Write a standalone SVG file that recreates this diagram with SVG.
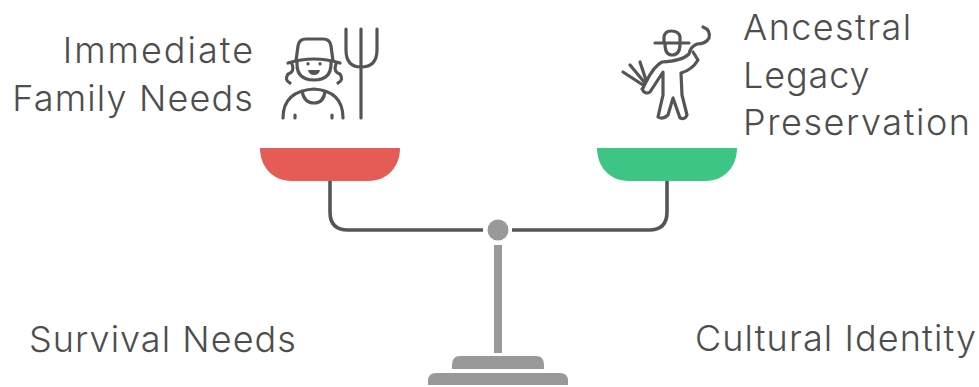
<svg xmlns="http://www.w3.org/2000/svg" width="979" height="387" viewBox="0 0 979 387">
<style>
text{font-family:Inter,"Liberation Sans",sans-serif;font-size:36px;font-weight:300;fill:#4d4d4d}
.i{fill:none;stroke:#555;stroke-width:3.2;stroke-linecap:round;stroke-linejoin:round}
.g{fill:#999}
.b{fill:none;stroke:#555;stroke-width:3.6}
</style>
<rect width="979" height="387" fill="#fff"/>
<g id="connectors">
<path class="b" d="M330 180V212Q330 230 348 230H483"/>
<path class="b" d="M667 180V212Q667 230 649 230H512"/>
</g>
<g id="pan-left"><path d="M260 148H400C400 166 388 181 368 181H292C272 181 260 166 260 148Z" fill="#e55b56"/></g>
<g id="pan-right"><path d="M597 148H737C737 166 725 181 705 181H629C609 181 597 166 597 148Z" fill="#3dc585"/></g>
<g id="stand">
<circle class="g" cx="498" cy="230" r="10.500"/>
<rect class="g" x="494" y="245" width="8" height="108"/>
<path class="g" d="M452 369V365Q452 356 460 356H536Q544 356 544 365V369Z"/>
<path class="g" d="M428 385V381Q428 373 436 373H560Q568 373 568 381V385Z"/>
</g>
<g id="icon-farmer">
<path class="i" d="M296 61L298 46Q299 39 306 39H323Q330 39 331 46L333 61"/>
<path class="i" d="M288 63Q314 55 340 63"/>
<path class="i" d="M297 61V64Q297 80 314 80Q331 80 331 64V61"/>
<path class="i" d="M292 64Q295 72 288 74Q284 80 290 83M336 64Q333 72 340 74Q344 80 338 83"/>
<path class="i" d="M308 63.500V64M320 63.500V64"/>
<path d="M308 70H320Q319 75 314 75Q309 75 308 70Z" fill="#555"/>
<path class="i" d="M283 118Q283 91 314 89Q343 91 343 118M302 91Q304 103 314 103Q324 103 325 91M295 115V118M332 115V118"/>
<path class="i" d="M346 29V50Q346 67 361 67Q377 67 377 50V29M361 29V118"/>
</g>
<g id="icon-gaucho">
<path class="i" d="M655 43H689M664 43V37Q665 31 671 31Q679 31 680 37V43M665 44Q665 55 672 55Q680 55 680 44"/>
<path class="i" d="M703 27Q711 30 709 38Q706 44 697 44Q690 47 689 54Q682 61 662 62Q654 66 646 82L643 88"/>
<path class="i" d="M693 52L698 60Q692 70 681 73L682 95L687 115Q685 120 680 118L673 98L668 115Q663 120 658 117L663 95V72L650 92Q645 95 642 89"/>
<path class="i" d="M623 72L643 85M630 65L645 83M640 62L646 80"/>
</g>
<g id="label-family"><text x="255" y="63" text-anchor="end" letter-spacing="2">Immediate</text><text x="254" y="111" text-anchor="end" letter-spacing="1.150">Family Needs</text></g>
<g id="label-legacy"><text x="743" y="40" letter-spacing="1.400">Ancestral</text><text x="743" y="88" letter-spacing="0.900">Legacy</text><text x="743" y="135" letter-spacing="1.550">Preservation</text></g>
<g id="label-survival"><text x="29" y="352" letter-spacing="1.050">Survival Needs</text></g>
<g id="label-culture"><text x="695" y="351" letter-spacing="1.100">Cultural Identity</text></g>
</svg>
